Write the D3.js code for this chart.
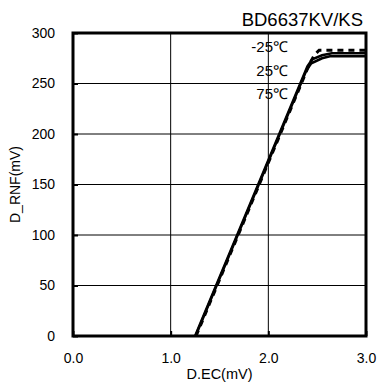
<!DOCTYPE html>
<html>
<head>
<meta charset="utf-8">
<script src="https://cdn.jsdelivr.net/npm/d3@7"></script>
<style>
  body { margin: 0; background: #fff; }
  text { font-family: "Liberation Sans", Arial, sans-serif; fill: #000; }
</style>
</head>
<body>
<svg id="chart"></svg>
<script>
// data
const xTicks = [0.0, 1.0, 2.0, 3.0];
const yTicks = [0, 50, 100, 150, 200, 250, 300];
const seriesNames = ["-25℃", "25℃", "75℃"];
const ecM25 = [1.26, 2.42, 2.47, 2.52, 3.0];
const rnfM25 = [0, 269, 278, 283, 283];
const ec25 = [1.25, 2.40, 2.45, 2.55, 2.65, 3.0];
const rnf25 = [0, 267, 274, 278, 280, 280];
const ec75 = [1.255, 2.39, 2.44, 2.55, 2.63, 3.0];
const rnf75 = [0, 263, 270, 275, 277, 277];
const partNo = "BD6637KV/KS";

const width = 379, height = 383;
const margin = { top: 33, right: 13, bottom: 47, left: 73 };
const w = width - margin.left - margin.right;
const h = height - margin.top - margin.bottom;

const svg = d3.select("#chart").attr("width", width).attr("height", height);
const g = svg.append("g").attr("transform", `translate(${margin.left}, ${margin.top})`);

const x = d3.scaleLinear().domain([0, 3]).range([0, w]);
const y = d3.scaleLinear().domain([0, 300]).range([h, 0]);

// grid
g.selectAll(".hgrid")
    .data(yTicks.slice(1, -1))
    .join("line")
    .attr("x1", 0).attr("x2", w)
    .attr("y1", d => y(d)).attr("y2", d => y(d))
    .attr("stroke", "#000").attr("stroke-width", 1);

g.selectAll(".vgrid")
    .data(xTicks.slice(1, -1))
    .join("line")
    .attr("y1", 0).attr("y2", h)
    .attr("x1", d => x(d)).attr("x2", d => x(d))
    .attr("stroke", "#000").attr("stroke-width", 1);

// axes (ticks inward, labels separately)
const yAxis = g.append("g")
    .call(d3.axisLeft(y).tickValues(yTicks).tickSize(-5).tickPadding(18));
yAxis.select(".domain").remove();
yAxis.selectAll(".tick line").attr("stroke-width", 2);
yAxis.selectAll(".tick text").style("font-size", "14px").attr("font-family", "Liberation Sans, Arial");

const xAxis = g.append("g")
    .attr("transform", `translate(0, ${h})`)
    .call(d3.axisBottom(x).tickValues(xTicks).tickFormat(d3.format(".1f")).tickSize(-5).tickPadding(17));
xAxis.select(".domain").remove();
xAxis.selectAll(".tick line").attr("stroke-width", 2);
xAxis.selectAll(".tick text").style("font-size", "14px").attr("font-family", "Liberation Sans, Arial");

// curves
const line = d3.line().x(d => x(d[0])).y(d => y(d[1]));
const curves = [
    { pts: d3.zip(ecM25, rnfM25), dash: "6,5", sw: 3 },
    { pts: d3.zip(ec25, rnf25), dash: null, sw: 2.5 },
    { pts: d3.zip(ec75, rnf75), dash: null, sw: 2.5 }
];

g.selectAll(".curve")
    .data(curves)
    .join("path")
    .attr("class", "curve")
    .attr("d", d => line(d.pts))
    .attr("fill", "none")
    .attr("stroke", "#000")
    .attr("stroke-width", d => d.sw)
    .attr("stroke-dasharray", d => d.dash);

// frame
g.append("rect")
    .attr("width", w).attr("height", h)
    .attr("fill", "none")
    .attr("stroke", "#000")
    .attr("stroke-width", 3);

// series labels
g.selectAll(".lbl")
    .data(seriesNames)
    .join("text")
    .attr("x", 215)
    .attr("y", (d, i) => 19 + i * 23.5)
    .attr("text-anchor", "end")
    .style("font-size", "15px")
    .text(d => d);

// part number
svg.append("text")
    .attr("x", 363).attr("y", 26)
    .attr("text-anchor", "end")
    .style("font-size", "18.5px")
    .text(partNo);

// axis titles
svg.append("text")
    .attr("x", margin.left + w / 2).attr("y", 379)
    .attr("text-anchor", "middle")
    .style("font-size", "14.5px")
    .text("D.EC(mV)");

svg.append("text")
    .attr("transform", `translate(20, ${margin.top + h / 2}) rotate(-90)`)
    .attr("text-anchor", "middle")
    .style("font-size", "14px")
    .text("D_RNF(mV)");
</script>
</body>
</html>
